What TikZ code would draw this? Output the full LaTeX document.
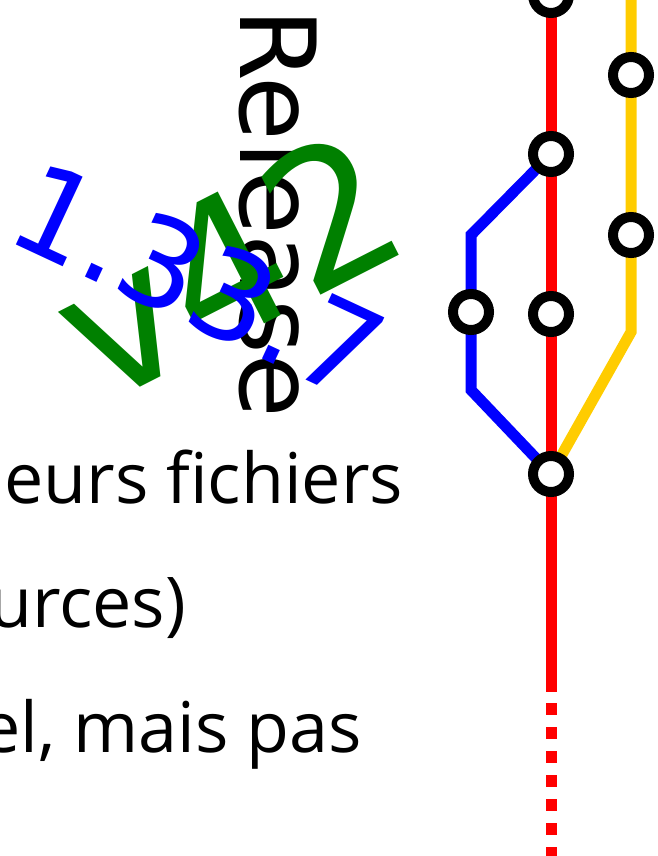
\documentclass[tikz,border=0pt]{standalone}
\usepackage{fontspec}
\setmainfont{Open Sans}[Ligatures=NoCommon]
\newfontfamily\tagfont{DejaVu Sans}
\usetikzlibrary{backgrounds}

\definecolor{gold}{RGB}{255,204,0}
\definecolor{taggreen}{RGB}{0,128,0}

\tikzset{
    commit/.style={circle, draw=black, fill=white, line width=10pt,
        minimum size=36pt, inner sep=0pt},
    branch/.style={line width=11pt},
    body/.style={anchor=base west, inner sep=0pt, font=\fontsize{70}{84}\selectfont},
    tag/.style={anchor=base west, inner sep=0pt},
}

\begin{document}
\begin{tikzpicture}[x=1pt, y=-1pt]
    \useasboundingbox (0,0) rectangle (658,856);

    % text of the slide
    \node [body] (line1) at (4,503) {eurs fichiers};
    \node [body] (line2) at (-11,627) {urces)};
    \node [body] (line3) at (-19,752) {el, mais pas};

    % labels
    \node [tag, rotate=-90, font=\tagfont\fontsize{105}{105}\selectfont] (rel) at (240,8) {Release};
    \node [tag, rotate=27, text=taggreen, font=\tagfont\fontsize{190}{190}\selectfont] (vtag) at (100,408) {v42};
    \node [tag, rotate=-25, text=blue, font=\tagfont\fontsize{123}{123}\selectfont] (ver) at (2,238) {1.33.7};

    % commits
    \foreach \name/\x/\y in {m0/551/-5, m1/551/154, m2/551/314, m3/551/474,
                             f1/471/312, r1/631/75, r2/631/235} {
        \node [commit] (\name) at (\x,\y) {};
        }
    \coordinate (fa) at (471,235);
    \coordinate (fb) at (471,390);
    \coordinate (rtop) at (631,-20);
    \coordinate (rb) at (631,332);
    \coordinate (mend) at (551,692);
    \coordinate (mout) at (551,880);

    \begin{pgfonlayer}{background}
        \draw [branch, red] (m0.center) -- (m1.center) -- (m2.center) -- (m3.center) -- (mend);
        \draw [branch, red, dash pattern=on 12pt off 12pt, dash phase=13pt] (mend) -- (mout);
        \draw [branch, blue] (m1.center) -- (fa) -- (f1.center) -- (fb) -- (m3.center);
        \draw [branch, gold] (rtop) -- (r1.center) -- (r2.center) -- (rb) -- (m3.center);
    \end{pgfonlayer}
\end{tikzpicture}
\end{document}
